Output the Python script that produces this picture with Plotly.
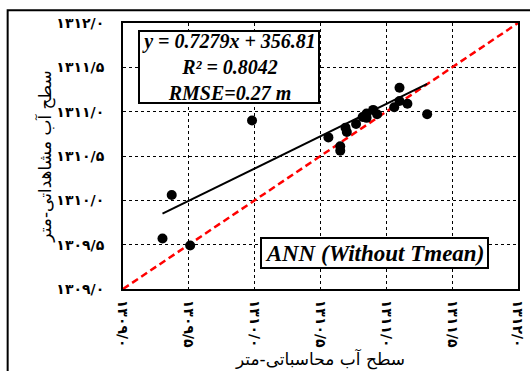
import plotly.graph_objects as go

# Calculated vs observed water level (m), ANN model without Tmean
calc_level = [1309.30, 1309.37, 1309.51, 1309.98, 1310.56, 1310.65, 1310.65,
              1310.69, 1310.70, 1310.77, 1310.82, 1310.85, 1310.85, 1310.90,
              1310.93, 1311.06, 1311.10, 1311.10, 1311.16, 1311.31]
obs_level = [1309.57, 1310.06, 1309.49, 1310.90, 1310.71, 1310.61, 1310.56,
             1310.82, 1310.77, 1310.86, 1310.94, 1310.98, 1310.93, 1311.02,
             1310.97, 1311.05, 1311.27, 1311.12, 1311.09, 1310.97]

# Trend line stated on the chart: y = 0.7279x + 356.81
slope = 0.7279
intercept = 356.81

tick_vals = [1309.0, 1309.5, 1310.0, 1310.5, 1311.0, 1311.5, 1312.0]
tick_text = ["۱۳۰۹/۰", "۱۳۰۹/۵", "۱۳۱۰/۰", "۱۳۱۰/۵", "۱۳۱۱/۰", "۱۳۱۱/۵", "۱۳۱۲/۰"]

x_title = "سطح آب محاسباتی-متر"
y_title = "سطح آب مشاهداتی-متر"

fit_x = [min(calc_level), max(calc_level)]
fit_y = [slope * v + intercept for v in fit_x]

fig = go.Figure()

# 1:1 reference line
fig.add_trace(go.Scatter(
    x=[tick_vals[0], tick_vals[-1]], y=[tick_vals[0], tick_vals[-1]],
    mode="lines", line=dict(color="#ff0000", width=2.5, dash="7px,4px"),
    hoverinfo="skip", showlegend=False, cliponaxis=False))

# Regression line
fig.add_trace(go.Scatter(
    x=fit_x, y=fit_y, mode="lines",
    line=dict(color="black", width=2), showlegend=False))

# Observations
fig.add_trace(go.Scatter(
    x=calc_level, y=obs_level, mode="markers",
    marker=dict(color="black", size=10), showlegend=False))

axis_common = dict(
    range=[1309.0, 1312.0], automargin=False,
    tickvals=tick_vals, ticktext=tick_text,
    showgrid=True, gridcolor="black", gridwidth=1, griddash="3px,3px",
    showline=True, linecolor="black", linewidth=2, mirror=True,
    ticks="", zeroline=False,
    tickfont=dict(family="DejaVu Sans", size=14, color="black", weight="bold"),
)

title_font = dict(family="DejaVu Sans", size=17, color="black")

fig.update_xaxes(**axis_common, tickangle=90, ticklabelstandoff=6,
                 title=dict(text=x_title, standoff=2, font=title_font))
fig.update_yaxes(**axis_common, ticklabelstandoff=14,
                 title=dict(text=y_title, standoff=0, font=title_font))

serif = "Liberation Serif"
fig.add_annotation(
    x=0.0375, y=0.972, xref="paper", yref="paper", xanchor="left", yanchor="top",
    text="<b><i>y = 0.7279x + 356.81<br>R² = 0.8042<br>RMSE=0.27 m</i></b>",
    showarrow=False, align="center",
    font=dict(family=serif, size=20, color="black"),
    bgcolor="white", bordercolor="black", borderwidth=2, borderpad=1,
    width=176, height=68)

fig.add_annotation(
    x=0.927, y=0.195, xref="paper", yref="paper", xanchor="right", yanchor="top",
    text="<b><i>ANN (Without Tmean)</i></b>",
    showarrow=False, font=dict(family=serif, size=23, color="black"),
    bgcolor="white", bordercolor="black", borderwidth=2, borderpad=1,
    width=223, height=26)

# Outer frame around the chart (left and top edges fall inside the page)
fig.add_shape(type="rect", xref="paper", yref="paper",
              x0=-0.292, y0=-0.6, x1=1.3, y1=1.0476,
              line=dict(color="black", width=2), layer="above")

fig.update_layout(
    width=530, height=371,
    margin=dict(l=122.5, r=12, t=23, b=82),
    plot_bgcolor="white", paper_bgcolor="white",
    showlegend=False,
)

fig.write_html("out.html")
